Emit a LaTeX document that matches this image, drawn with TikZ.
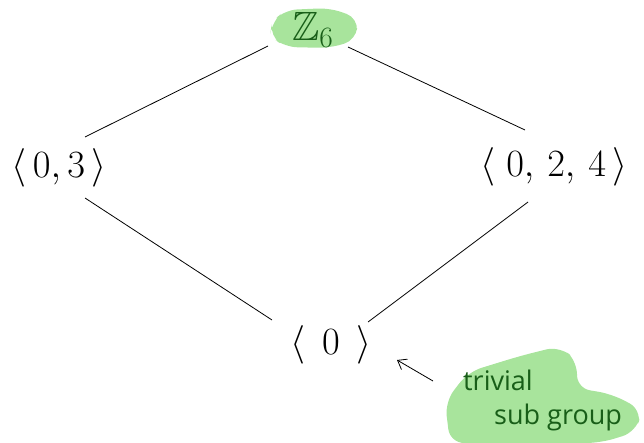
\documentclass[tikz,border=0pt]{standalone}
\usepackage{amssymb}
\usepackage{fontspec}
\usetikzlibrary{arrows.meta}
\newfontfamily\handfont{Open Sans}
\definecolor{hilite}{HTML}{A8E49C}
\definecolor{ink}{HTML}{185E18}
\begin{document}
\begin{tikzpicture}[x=1pt,y=-1pt,
  grp/.style={inner sep=0pt,scale=1.55,font=\fontsize{24}{28}\selectfont},
  edge/.style={line width=0.8pt},
  note/.style={text=ink,inner sep=0pt,font=\handfont\fontsize{27}{30}\selectfont}]
\useasboundingbox (0,0) rectangle (644,443);
% highlight blobs
\fill[hilite,rounded corners=12pt] (272,22) -- (285,10) -- (330,8) -- (358,18) -- (356,40) -- (330,48) -- (285,47) -- (270,36) -- cycle;
\fill[hilite,rounded corners=14pt] (445,402) -- (468,372) -- (520,356) -- (560,346) -- (578,362) -- (576,388) -- (612,394) -- (642,410) -- (636,432) -- (600,443) -- (450,443) -- cycle;
% subgroup nodes
\node[grp,text=ink,scale=1.1] (z6) at (313,30) {$\mathbb{Z}_6$};
\node[grp] (a) at (59,168) {$\langle\, 0,3\,\rangle$};
\node[grp] (b) at (554,167) {$\langle\; 0,\, 2,\, 4\,\rangle$};
\node[grp] (c) at (331,345) {$\langle\;\, 0\;\,\rangle$};
% annotation
\node[note,anchor=west] (t1) at (463,380) {trivial};
\node[note,anchor=west] (t2) at (494,417) {sub group};
% edge end points
\coordinate (a-up) at (85,137);  \coordinate (z-left) at (268,46);
\coordinate (z-right) at (348,47); \coordinate (b-up) at (525,130);
\coordinate (a-down) at (85,198); \coordinate (c-left) at (272,320);
\coordinate (b-down) at (528,202); \coordinate (c-right) at (368,322);
\coordinate (tip) at (397,360);
\coordinate (tail) at (433,381);
% lattice edges
\draw[edge] (a-up) -- (z-left);
\draw[edge] (z-right) -- (b-up);
\draw[edge] (a-down) -- (c-left);
\draw[edge] (b-down) -- (c-right);
\draw[edge,-{Straight Barb[length=8pt,width=12pt]}] (tail) -- (tip);
\end{tikzpicture}
\end{document}
